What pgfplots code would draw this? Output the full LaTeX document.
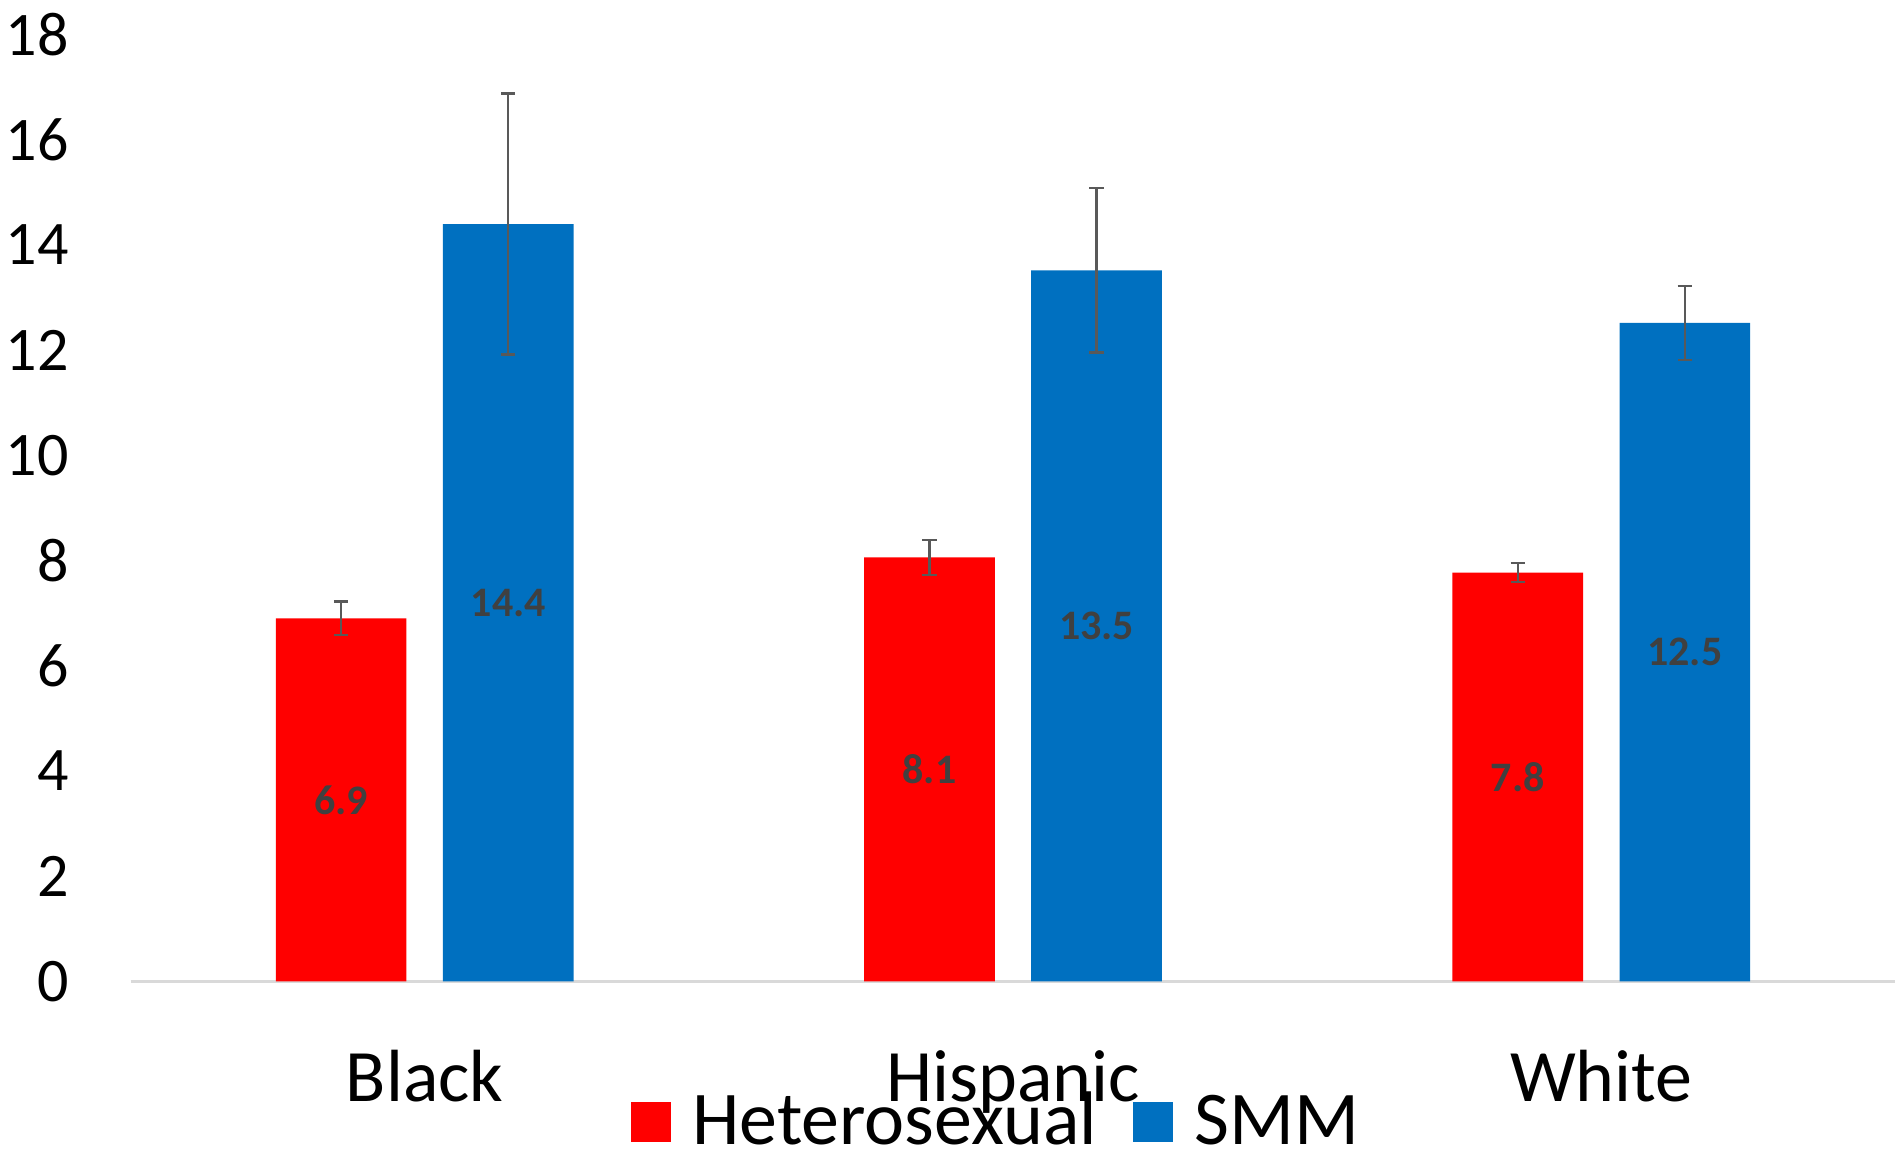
\documentclass[border=0pt]{standalone}
\usepackage{pgfplots}
\pgfplotsset{compat=1.18}
\usepackage{fontspec}
\setmainfont{Carlito}
\definecolor{hetred}{HTML}{FF0000}
\definecolor{smmblue}{HTML}{0070C0}
\definecolor{errgray}{HTML}{595959}
\definecolor{lblgray}{HTML}{404040}
\definecolor{axgray}{HTML}{D9D9D9}
\begin{document}
\begin{tikzpicture}
\begin{axis}[
  scale only axis, width=441.5pt, height=236.8pt,
  xmin=-0.5, xmax=2.5, ymin=0, ymax=18,
  ytick={0,2,...,18},
  xtick={0,1,2}, xticklabels={Black,Hispanic,White},
  axis lines*=left,
  y axis line style={draw=none},
  x axis line style={draw=axgray, line width=0.8pt},
  major tick length=0pt,
  /pgf/number format/assume math mode=true,
  yticklabel style={font=\fontsize{15.5}{18}\selectfont, inner xsep=1.5pt, xshift=-13.75pt},
  xticklabel style={font=\fontsize{18.5}{22}\selectfont, anchor=base, yshift=-30pt},
  legend style={draw=none, fill=none, at={(axis description cs:0.2834,0)}, anchor=north west,
    yshift=-27.45pt, inner sep=0pt, outer sep=0pt,
    nodes={inner sep=0pt, text height=13.3pt, text depth=1.5pt},
    font=\fontsize{19}{22}\selectfont,
    /tikz/every odd column/.append style={column sep=5.4pt},
    /tikz/every even column/.append style={column sep=9pt}},
  legend columns=2,
  legend image code/.code={\fill[#1] (0pt,-5.3pt) rectangle (10pt,4.7pt);},
  error bars/error bar style={errgray, line width=0.6pt},
  error bars/error mark options={errgray, mark size=1.8pt, line width=0.6pt, rotate=90},
]
\addplot[ybar, bar width=0.222, bar shift=0, fill=hetred, draw=none,
  error bars/.cd, y dir=both, y explicit]
  coordinates {(-0.142,6.9) +- (0,0.32) (0.858,8.06) +- (0,0.33) (1.858,7.77) +- (0,0.18)};
\addlegendentry{Heterosexual}
\addplot[ybar, bar width=0.222, bar shift=0, fill=smmblue, draw=none,
  error bars/.cd, y dir=both, y explicit]
  coordinates {(0.142,14.4) +- (0,2.48) (1.142,13.52) +- (0,1.56) (2.142,12.52) +- (0,0.7)};
\addlegendentry{SMM}
\addplot[draw=none, forget plot, nodes near coords, point meta=explicit symbolic,
  every node near coord/.style={anchor=center, font=\bfseries\fontsize{10.5}{12}\selectfont, text=lblgray}]
  coordinates {(-0.142,3.45)[6.9] (0.858,4.03)[8.1] (1.858,3.89)[7.8]
               (0.142,7.2)[14.4] (1.142,6.76)[13.5] (2.142,6.26)[12.5]};
\end{axis}
\end{tikzpicture}
\end{document}
